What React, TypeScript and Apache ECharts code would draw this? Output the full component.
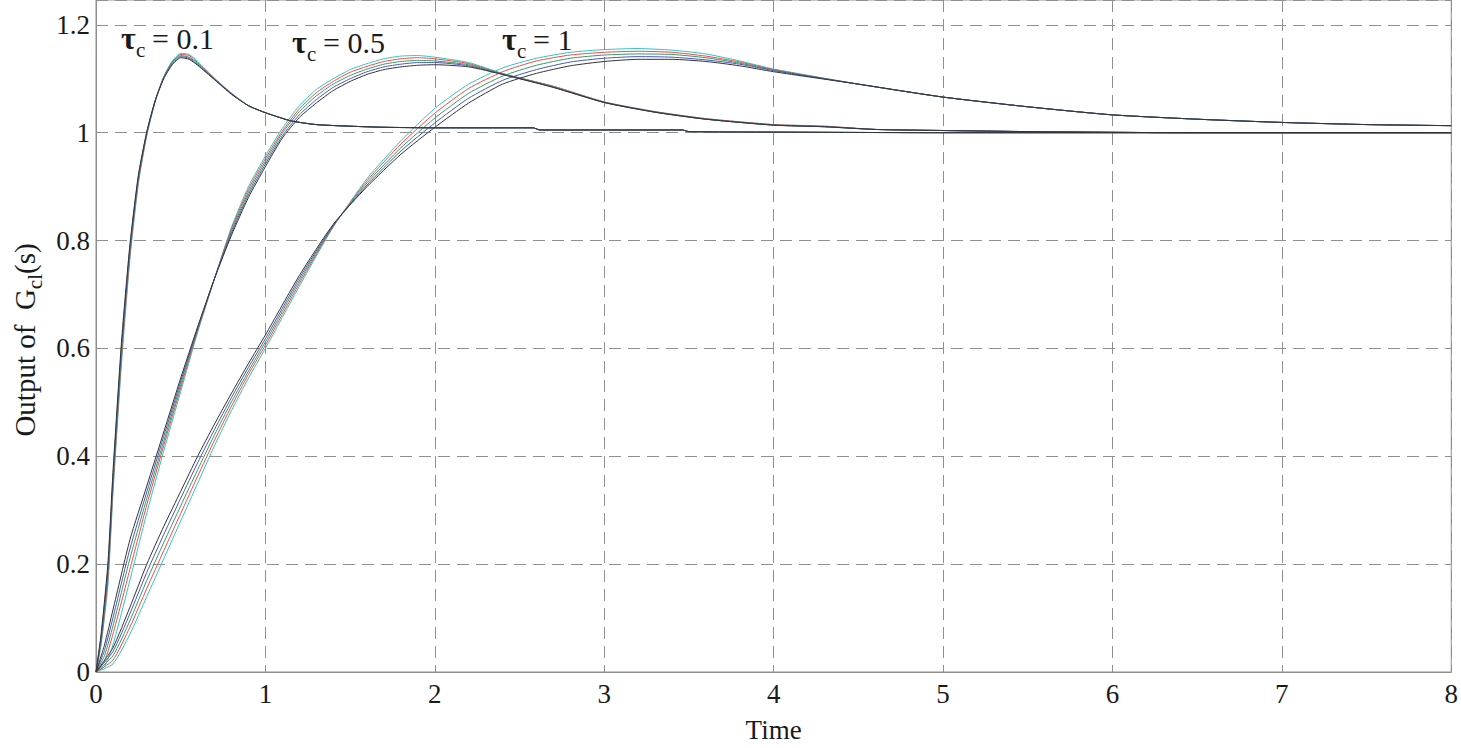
import React, { useEffect, useRef } from "react";
import * as echarts from "echarts";

// ---------- data ----------
const X_TICKS = [0, 1, 2, 3, 4, 5, 6, 7, 8];
const Y_TICKS = [0, 0.2, 0.4, 0.6, 0.8, 1, 1.2];

const LINE_NAMES = ["cyan", "red", "green", "blue", "black"];
const LINE_COLORS = ["#2fc4c4", "#ee4a4a", "#3a9862", "#4658bd", "#333333"];

// tau_c = 0.1 group
const T01 = [0, 0.03, 0.07, 0.1, 0.15, 0.2, 0.25, 0.3, 0.35, 0.4, 0.45, 0.5, 0.55, 0.6, 0.7, 0.8, 0.9, 1.0, 1.15, 1.3, 1.5, 1.7, 2.0, 2.58, 2.62, 3.46, 3.5, 4.0, 5.0, 8.0];
const G01_CYAN = [0, 0.05, 0.16, 0.33, 0.57, 0.765, 0.905, 0.995, 1.058, 1.104, 1.133, 1.147, 1.145, 1.132, 1.101, 1.073, 1.05, 1.037, 1.022, 1.015, 1.012, 1.01, 1.009, 1.009, 1.005, 1.005, 1.002, 1.001, 1.0, 1.0];
const G01_RED = [0, 0.055, 0.17, 0.34, 0.58, 0.772, 0.91, 0.997, 1.059, 1.103, 1.131, 1.145, 1.143, 1.13, 1.1, 1.073, 1.05, 1.037, 1.022, 1.015, 1.012, 1.01, 1.009, 1.009, 1.005, 1.005, 1.002, 1.001, 1.0, 1.0];
const G01_GREEN = [0, 0.06, 0.18, 0.35, 0.59, 0.78, 0.915, 1.0, 1.06, 1.103, 1.13, 1.143, 1.14, 1.128, 1.1, 1.072, 1.05, 1.037, 1.022, 1.015, 1.012, 1.01, 1.009, 1.009, 1.005, 1.005, 1.002, 1.001, 1.0, 1.0];
const G01_BLUE = [0, 0.065, 0.19, 0.36, 0.6, 0.786, 0.918, 1.001, 1.06, 1.102, 1.128, 1.141, 1.138, 1.126, 1.099, 1.072, 1.05, 1.037, 1.022, 1.015, 1.012, 1.01, 1.009, 1.009, 1.005, 1.005, 1.002, 1.001, 1.0, 1.0];
const G01_BLACK = [0, 0.07, 0.2, 0.37, 0.61, 0.792, 0.921, 1.002, 1.06, 1.1, 1.126, 1.139, 1.136, 1.125, 1.098, 1.071, 1.05, 1.037, 1.022, 1.015, 1.012, 1.01, 1.009, 1.009, 1.005, 1.005, 1.002, 1.001, 1.0, 1.0];

// tau_c = 0.5 group
const T05 = [0, 0.05, 0.1, 0.2, 0.3, 0.4, 0.5, 0.6, 0.7, 0.8, 0.9, 1.0, 1.1, 1.2, 1.3, 1.4, 1.5, 1.6, 1.7, 1.8, 1.9, 2.0, 2.2, 2.4, 2.7, 3.0, 3.3, 3.6, 4.0, 4.3, 4.6, 5.0, 5.5, 6.4, 8.0];
const G05_CYAN = [0, 0.01, 0.05, 0.17, 0.295, 0.41, 0.52, 0.63, 0.73, 0.825, 0.9, 0.957, 1.008, 1.05, 1.08, 1.1, 1.117, 1.128, 1.137, 1.142, 1.143, 1.14, 1.13, 1.11, 1.086, 1.057, 1.039, 1.026, 1.015, 1.012, 1.006, 1.004, 1.002, 1.0, 1.0];
const G05_RED = [0, 0.02, 0.07, 0.19, 0.31, 0.42, 0.527, 0.633, 0.73, 0.822, 0.895, 0.952, 1.003, 1.044, 1.074, 1.095, 1.112, 1.123, 1.132, 1.137, 1.139, 1.137, 1.128, 1.109, 1.086, 1.057, 1.039, 1.026, 1.015, 1.012, 1.006, 1.004, 1.002, 1.0, 1.0];
const G05_GREEN = [0, 0.03, 0.085, 0.21, 0.322, 0.428, 0.533, 0.636, 0.73, 0.818, 0.89, 0.947, 0.999, 1.039, 1.068, 1.09, 1.106, 1.118, 1.127, 1.132, 1.134, 1.133, 1.126, 1.109, 1.085, 1.056, 1.038, 1.025, 1.014, 1.011, 1.006, 1.004, 1.002, 1.0, 1.0];
const G05_BLUE = [0, 0.04, 0.1, 0.228, 0.334, 0.437, 0.539, 0.638, 0.73, 0.814, 0.885, 0.942, 0.994, 1.033, 1.061, 1.084, 1.1, 1.113, 1.122, 1.127, 1.13, 1.13, 1.124, 1.108, 1.084, 1.056, 1.038, 1.025, 1.014, 1.011, 1.006, 1.004, 1.002, 1.0, 1.0];
const G05_BLACK = [0, 0.05, 0.115, 0.245, 0.345, 0.445, 0.545, 0.64, 0.73, 0.81, 0.88, 0.937, 0.99, 1.028, 1.055, 1.078, 1.095, 1.108, 1.117, 1.122, 1.125, 1.126, 1.122, 1.108, 1.084, 1.056, 1.038, 1.025, 1.014, 1.011, 1.006, 1.004, 1.002, 1.0, 1.0];

// tau_c = 1 group
const T1 = [0, 0.1, 0.2, 0.3, 0.4, 0.5, 0.6, 0.7, 0.8, 0.9, 1.0, 1.2, 1.4, 1.6, 1.8, 2.0, 2.2, 2.4, 2.6, 2.8, 3.0, 3.2, 3.4, 3.6, 3.8, 4.0, 4.5, 5.0, 5.5, 6.0, 6.5, 7.0, 7.5, 8.0];
const G1_CYAN = [0, 0.015, 0.07, 0.14, 0.21, 0.28, 0.35, 0.42, 0.485, 0.545, 0.6, 0.715, 0.825, 0.915, 0.985, 1.045, 1.09, 1.12, 1.138, 1.149, 1.154, 1.156, 1.153, 1.146, 1.133, 1.118, 1.09, 1.066, 1.048, 1.033, 1.025, 1.019, 1.015, 1.013];
const G1_RED = [0, 0.022, 0.083, 0.155, 0.225, 0.294, 0.363, 0.43, 0.493, 0.552, 0.606, 0.72, 0.826, 0.911, 0.979, 1.036, 1.082, 1.113, 1.133, 1.144, 1.149, 1.151, 1.149, 1.142, 1.131, 1.117, 1.09, 1.066, 1.048, 1.033, 1.025, 1.019, 1.015, 1.013];
const G1_GREEN = [0, 0.03, 0.095, 0.17, 0.24, 0.308, 0.375, 0.44, 0.501, 0.558, 0.612, 0.725, 0.827, 0.907, 0.972, 1.027, 1.073, 1.105, 1.125, 1.138, 1.144, 1.146, 1.145, 1.139, 1.129, 1.116, 1.09, 1.066, 1.048, 1.033, 1.025, 1.019, 1.015, 1.013];
const G1_BLUE = [0, 0.038, 0.108, 0.185, 0.255, 0.322, 0.388, 0.45, 0.509, 0.565, 0.618, 0.73, 0.828, 0.903, 0.966, 1.018, 1.064, 1.097, 1.117, 1.131, 1.138, 1.141, 1.14, 1.135, 1.127, 1.115, 1.09, 1.066, 1.048, 1.033, 1.025, 1.019, 1.015, 1.013];
const G1_BLACK = [0, 0.045, 0.12, 0.2, 0.27, 0.335, 0.4, 0.46, 0.517, 0.572, 0.625, 0.735, 0.83, 0.9, 0.96, 1.01, 1.055, 1.09, 1.11, 1.124, 1.132, 1.136, 1.136, 1.132, 1.124, 1.113, 1.09, 1.066, 1.048, 1.033, 1.025, 1.019, 1.015, 1.013];

const GROUPS = [
  { label: "0.1", t: T01, lines: [G01_CYAN, G01_RED, G01_GREEN, G01_BLUE, G01_BLACK] },
  { label: "0.5", t: T05, lines: [G05_CYAN, G05_RED, G05_GREEN, G05_BLUE, G05_BLACK] },
  { label: "1", t: T1, lines: [G1_CYAN, G1_RED, G1_GREEN, G1_BLUE, G1_BLACK] },
];

const FONT_NAME = "Liberation Serif";
const TEXT_COLOR = "#1a1a1a";
const GRID_COLOR = "#8f8f8f";

function txt(x: number, y: number, text: string, size: number, weight = "normal") {
  return {
    type: "text",
    x,
    y,
    silent: true,
    style: {
      text,
      font: `${weight} ${size}px "${FONT_NAME}"`,
      fill: TEXT_COLOR,
      align: "left",
      verticalAlign: "middle",
    },
  };
}

function tauLabel(x: number, yMid: number, value: string) {
  return {
    type: "group",
    children: [
      txt(x, yMid, "τ", 32, "bold"),
      txt(x + 15, yMid + 12, "c", 21),
      txt(x + 31, yMid, "= " + value, 30),
    ],
  };
}

export default function App() {
  const ref = useRef<HTMLDivElement>(null);

  useEffect(() => {
    if (!ref.current) return;
    const chart = echarts.init(ref.current, null, { renderer: "svg" });

    const series: any[] = [];
    GROUPS.forEach((g) => {
      g.lines.forEach((vals, k) => {
        series.push({
          name: "tau " + g.label + " " + LINE_NAMES[k],
          type: "line",
          data: g.t.map((t, i) => [t, vals[i]]),
          showSymbol: false,
          smooth: 0.2,
          lineStyle: { width: 1, color: LINE_COLORS[k] },
          itemStyle: { color: LINE_COLORS[k] },
          emphasis: { disabled: true },
          z: 3 + k,
        });
      });
    });

    chart.setOption({
      animation: false,
      backgroundColor: "#ffffff",
      grid: {
        left: 96,
        right: 8,
        top: 0,
        bottom: 75,
        show: true,
        borderColor: GRID_COLOR,
        borderWidth: 1,
        backgroundColor: "#ffffff",
      },
      xAxis: {
        type: "value",
        min: 0,
        max: 8,
        interval: 1,
        name: "Time",
        nameLocation: "middle",
        nameGap: 44,
        nameTextStyle: { fontFamily: FONT_NAME, fontSize: 27, color: TEXT_COLOR },
        axisLine: { show: true, lineStyle: { color: GRID_COLOR, width: 1 } },
        axisTick: { show: true, inside: true, length: 6, lineStyle: { color: GRID_COLOR } },
        axisLabel: {
          fontFamily: FONT_NAME,
          fontSize: 27,
          color: TEXT_COLOR,
          margin: 8,
          formatter: (v: number) => (X_TICKS.includes(v) ? String(v) : ""),
        },
        splitLine: { show: true, lineStyle: { color: GRID_COLOR, type: [12, 7], width: 1 } },
      },
      yAxis: {
        type: "value",
        min: 0,
        max: 1.246,
        interval: 0.2,
        axisLine: { show: true, lineStyle: { color: GRID_COLOR, width: 1 } },
        axisTick: { show: true, inside: true, length: 6, lineStyle: { color: GRID_COLOR } },
        axisLabel: {
          fontFamily: FONT_NAME,
          fontSize: 27,
          color: TEXT_COLOR,
          margin: 6,
          showMaxLabel: false,
          formatter: (v: number) => {
            const hit = Y_TICKS.find((y) => Math.abs(y - v) < 1e-6);
            return hit === undefined ? "" : String(hit);
          },
        },
        splitLine: { show: true, lineStyle: { color: GRID_COLOR, type: [12, 7], width: 1 } },
      },
      graphic: [
        tauLabel(121, 38, GROUPS[0].label),
        tauLabel(292, 42, GROUPS[1].label),
        tauLabel(502, 39, GROUPS[2].label),
        {
          type: "text",
          x: 25,
          y: 340,
          rotation: Math.PI / 2,
          silent: true,
          style: {
            text: "{n|Output of  G}{s|cl}{n|(s)}",
            align: "center",
            verticalAlign: "middle",
            rich: {
              n: { fontFamily: FONT_NAME, fontSize: 29, lineHeight: 40, verticalAlign: "middle", fill: TEXT_COLOR },
              s: { fontFamily: FONT_NAME, fontSize: 21, lineHeight: 18, verticalAlign: "bottom", fill: TEXT_COLOR },
            },
          },
        },
      ],
      series,
    });

    return () => chart.dispose();
  }, []);

  return (
    <div
      ref={ref}
      style={{ position: "absolute", left: 0, top: 0, width: 1461, height: 748, background: "#fff" }}
    />
  );
}
